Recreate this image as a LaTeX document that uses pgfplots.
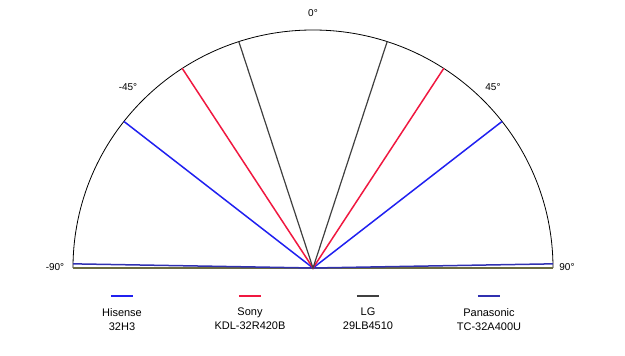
\documentclass[border=0pt]{standalone}
\usepackage{fontspec}
\setmainfont{Liberation Sans}
\usepackage{pgfplots}
\pgfplotsset{compat=1.18}
\definecolor{hisense}{HTML}{2020F0}
\definecolor{sony}{HTML}{F01840}
\definecolor{lg}{HTML}{404040}
\definecolor{pana}{HTML}{3030B0}
\definecolor{base}{HTML}{6B6B40}
\begin{document}
\begin{tikzpicture}
\useasboundingbox (-313pt,-88pt) rectangle (312pt,268pt);
\begin{axis}[
  at={(0pt,0pt)}, anchor=origin,
  x=240pt, y=238pt,
  xmin=-1, xmax=1, ymin=0, ymax=1,
  hide axis, clip=false,
]
% semicircle and baseline
\draw[black, line width=0.8pt] (axis cs:1,0) arc[start angle=0, end angle=180, x radius=240pt, y radius=238pt];
\draw[base, line width=1.2pt] (axis cs:-1,0) -- (axis cs:1,0);
% Panasonic (+-89 deg)
\addplot[pana, line width=1.5pt] coordinates {(-0.99985,0.01745) (0,0) (0.99985,0.01745)};
% Hisense (+-52 deg)
\addplot[hisense, line width=1.5pt] coordinates {(-0.788,0.616) (0,0) (0.788,0.616)};
% Sony (+-33 deg)
\addplot[sony, line width=1.5pt] coordinates {(-0.545,0.839) (0,0) (0.545,0.839)};
% LG (+-18 deg)
\addplot[lg, line width=1.2pt] coordinates {(-0.309,0.951) (0,0) (0.309,0.951)};
\end{axis}
% angle labels
\begin{scope}[every node/.style={font=\fontsize{10}{12}\selectfont, inner sep=0pt}]
\node at (0pt,255pt) {0°};
\node at (-185pt,181pt) {-45°};
\node at (180pt,181pt) {45°};
\node at (-258pt,1pt) {-90°};
\node at (254pt,1pt) {90°};
\end{scope}
% legend
\begin{scope}[every node/.style={font=\fontsize{11}{14}\selectfont, inner sep=0pt, align=center}]
\draw[hisense, line width=1.5pt] (-202pt,-28pt) -- (-180pt,-28pt);
\node[anchor=north] at (-191pt,-40pt) {Hisense\\32H3};
\draw[sony, line width=1.5pt] (-74pt,-28pt) -- (-52pt,-28pt);
\node[anchor=north] at (-63pt,-40pt) {Sony\\KDL-32R420B};
\draw[lg, line width=1.5pt] (44pt,-28pt) -- (66pt,-28pt);
\node[anchor=north] at (55pt,-40pt) {LG\\29LB4510};
\draw[pana, line width=1.5pt] (165pt,-28pt) -- (187pt,-28pt);
\node[anchor=north] at (176pt,-40pt) {Panasonic\\TC-32A400U};
\end{scope}
\end{tikzpicture}
\end{document}
